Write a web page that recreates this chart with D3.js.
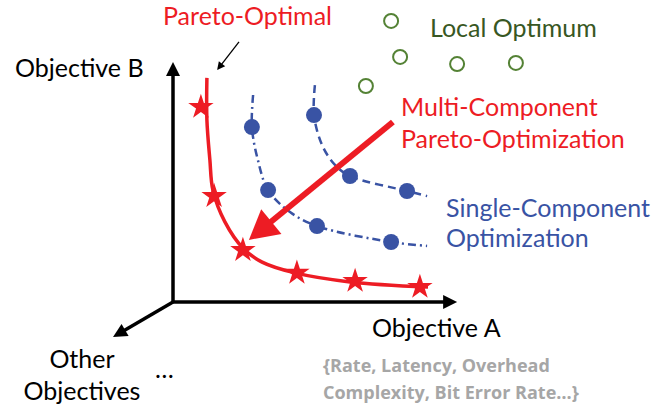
<!DOCTYPE html>
<html>
<head>
<meta charset="utf-8">
<script src="https://cdn.jsdelivr.net/npm/d3@7"></script>
<style>
  html, body { margin: 0; padding: 0; background: #fff; }
  svg { display: block; }
</style>
</head>
<body>
<div id="chart"></div>
<script>
// values in "objective units": A runs 0..100 right, B runs 0..100 up
const paretoCurve = [[11.3, 74.7], [11.3, 60.7], [12.3, 47.3], [13.3, 37.3], [17.3, 26.7], [23.3, 18],
                     [29.7, 13.3], [40.7, 9.7], [59, 6.7], [85, 5]];
const paretoStars = [[9.3, 65], [13.7, 35.3], [23.3, 17.3], [41.3, 9.7], [60.7, 7], [82.3, 5]];

const singleLineA = [[26.7, 69], [26.3, 58.3], [28.3, 47.3], [31.7, 37.3], [39, 30], [48, 25.3], [72.7, 20], [84.7, 18.7]];
const singleDotsA = [[26.3, 58.3], [31.7, 37.3], [48, 25.3], [72.7, 20]];
const singleLineB = [[47.3, 72.3], [47, 62.3], [49.7, 52.3], [54, 45.7], [59, 42], [78, 37], [84.7, 35.3]];
const singleDotsB = [[47, 62.3], [59, 42], [78, 37]];

const localOptima = [[72.7, 93.7], [75.7, 81.7], [64.3, 72], [94.7, 79.3], [114.3, 79.7]];

const axisTips = [[0, 80], [94.7, 0], [-20, -11.7]];
const moveArrow = [[73.3, 60], [25.3, 20.7]];
const pointerArrow = [[22, 86.7], [14.7, 77.3]];

const width = 658
    , height = 409
    , red = '#ed1c24'
    , blue = '#3953a4'
    , green = '#548235'
    ;

const x = d3.scaleLinear().domain([0, 100]).range([173, 473]);
const y = d3.scaleLinear().domain([0, 100]).range([302, 2]);
const px = d => [x(d[0]), y(d[1])];

const svg = d3.select('#chart')
  .append('svg')
  .attr('width', width)
  .attr('height', height)
  .style('font-family', 'Lato, sans-serif');

function arrow(from, to, color, lw, headLen, headHalf) {
  const [x0, y0] = px(from)
      , [x1, y1] = px(to)
      , len = Math.hypot(x1 - x0, y1 - y0)
      , ux = (x1 - x0) / len
      , uy = (y1 - y0) / len
      , bx = x1 - ux * headLen
      , by = y1 - uy * headLen
      ;
  svg.append('line')
    .attr('x1', x0).attr('y1', y0)
    .attr('x2', bx + ux * 2).attr('y2', by + uy * 2)
    .attr('stroke', color)
    .attr('stroke-width', lw);
  svg.append('path')
    .attr('d', `M${x1},${y1}L${bx - uy * headHalf},${by + ux * headHalf}L${bx + uy * headHalf},${by - ux * headHalf}Z`)
    .attr('fill', color);
}

// axes
axisTips.forEach(t => arrow([0, 0], t, '#000', 3.5, 14, 7));

const line = d3.line().x(d => x(d[0])).y(d => y(d[1])).curve(d3.curveCatmullRom);

// single-component optimization runs
svg.append('path')
  .attr('d', line(singleLineA))
  .attr('fill', 'none')
  .attr('stroke', blue)
  .attr('stroke-width', 2.5)
  .attr('stroke-dasharray', '8,4,2,4');

svg.append('path')
  .attr('d', line(singleLineB))
  .attr('fill', 'none')
  .attr('stroke', blue)
  .attr('stroke-width', 2.5)
  .attr('stroke-dasharray', '8,5');

svg.append('g')
  .selectAll('circle')
  .data(singleDotsA.concat(singleDotsB))
  .join('circle')
    .attr('cx', d => x(d[0]))
    .attr('cy', d => y(d[1]))
    .attr('r', 8)
    .attr('fill', blue);

// local optima
svg.append('g')
  .selectAll('circle')
  .data(localOptima)
  .join('circle')
    .attr('cx', d => x(d[0]))
    .attr('cy', d => y(d[1]))
    .attr('r', 7)
    .attr('fill', 'none')
    .attr('stroke', green)
    .attr('stroke-width', 2);

// pareto front
svg.append('path')
  .attr('d', line(paretoCurve))
  .attr('fill', 'none')
  .attr('stroke', red)
  .attr('stroke-width', 3.5);

const star = d3.symbol().type(d3.symbolStar).size(200);
svg.append('g')
  .selectAll('path')
  .data(paretoStars)
  .join('path')
    .attr('transform', d => `translate(${x(d[0])},${y(d[1])})`)
    .attr('d', star)
    .attr('fill', red);

arrow(moveArrow[0], moveArrow[1], red, 6, 29, 16);
arrow(pointerArrow[0], pointerArrow[1], '#000', 1.3, 8, 4);

// labels
const labels = [
  { t: 'Pareto-Optimal', x: 163, y: 25, c: red },
  { t: 'Local Optimum', x: 430, y: 37, c: '#385723' },
  { t: 'Multi-Component', x: 401, y: 116, c: red },
  { t: 'Pareto-Optimization', x: 401, y: 148, c: red },
  { t: 'Single-Component', x: 446, y: 217, c: blue },
  { t: 'Optimization', x: 446, y: 247, c: blue },
  { t: 'Objective B', x: 15, y: 77, c: '#000' },
  { t: 'Objective A', x: 372, y: 337, c: '#000' },
  { t: 'Other', x: 82, y: 368, c: '#000', a: 'middle' },
  { t: 'Objectives', x: 82, y: 400, c: '#000', a: 'middle' },
  { t: '\u2026', x: 155, y: 378, c: '#000' },
];

svg.append('g')
  .selectAll('text')
  .data(labels)
  .join('text')
    .attr('x', d => d.x)
    .attr('y', d => d.y)
    .attr('fill', d => d.c)
    .attr('text-anchor', d => d.a || 'start')
    .style('font-size', '25px')
    .text(d => d.t);

svg.append('g')
  .selectAll('text')
  .data(['{Rate, Latency, Overhead', 'Complexity, Bit Error Rate\u2026}'])
  .join('text')
    .attr('x', 323)
    .attr('y', (d, i) => 372 + i * 27)
    .attr('fill', '#a6a6a6')
    .style('font-family', '"Open Sans", sans-serif')
    .style('font-size', '18px')
    .style('font-weight', 'bold')
    .text(d => d);
</script>
</body>
</html>
